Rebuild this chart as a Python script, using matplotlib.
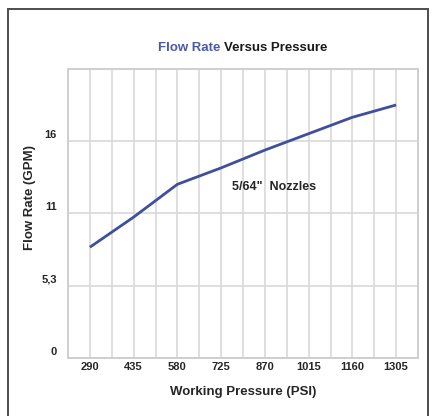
import numpy as np
import matplotlib
matplotlib.use('Agg')
import matplotlib.pyplot as plt
import matplotlib.transforms as mtransforms
from matplotlib.patches import Rectangle

# data
pressure_psi = [290, 435, 580, 725, 870, 1015, 1160, 1305]
flow_gpm = [8.1, 10.3, 12.7, 13.9, 15.2, 16.4, 17.6, 18.5]
y_ticks = [0, 5.28, 10.57, 15.85]          # 0 / 20 / 40 / 60 L/min in GPM
y_tick_labels = ['0', '5,3', '11', '16']
x_minor = [217.5 + 145 * i for i in range(9)]

plt.rcParams['font.family'] = ['Liberation Sans', 'DejaVu Sans']
plt.rcParams['font.weight'] = 'bold'

line_blue = '#3f4f9c'
grid_col = '#d9d9d9'
txt_col = '#262626'

fig = plt.figure(figsize=(4.36, 4.16), dpi=100)
fig.patch.set_facecolor('white')

# outer frame of the picture
fig.patches.append(Rectangle((8 / 436, -0.05), 420 / 436, 1.05 - 9 / 416,
                             transform=fig.transFigure, fill=False,
                             edgecolor='#4d4d4d', linewidth=1.4))

ax = fig.add_axes([68 / 436, 58 / 416, 350 / 436, 289 / 416])
ax.plot(pressure_psi, flow_gpm, color=line_blue, linewidth=2.0, solid_capstyle='butt', zorder=3)

ax.set_xlim(217.5, 1377.5)
ax.set_ylim(0, 21.13)
ax.set_xticks(pressure_psi)
ax.set_xticklabels([str(p) for p in pressure_psi])
ax.set_xticks(x_minor, minor=True)
ax.set_yticks(y_ticks)
ax.set_yticklabels(y_tick_labels)

ax.grid(True, which='both', axis='x', color=grid_col, linewidth=1.2)
ax.grid(True, which='major', axis='y', color=grid_col, linewidth=1.2)
ax.set_axisbelow(True)
for s in ax.spines.values():
    s.set_color('#cfcfcf')
    s.set_linewidth(1.4)

ax.tick_params(which='both', length=0)
ax.tick_params(axis='x', pad=3, labelsize=8, labelcolor=txt_col)
ax.tick_params(axis='y', pad=8, labelsize=8, labelcolor=txt_col)
offset = mtransforms.ScaledTranslation(0, 0.07, fig.dpi_scale_trans)
for lab in ax.get_yticklabels():
    lab.set_transform(lab.get_transform() + offset)

ax.text(760, 12.5, '5/64"  Nozzles', fontsize=9, fontweight='bold', color=txt_col, va='center', ha='left')

# title with two colours, centered over the plot as a whole
t1 = fig.text(243 / 436, 1 - 48 / 416, 'Flow Rate ', color='#4a5aa6', fontsize=9.5,
              fontweight='bold', ha='right', va='center')
t2 = fig.text(243 / 436, 1 - 48 / 416, 'Versus Pressure', color='#1a1a1a', fontsize=9.5,
              fontweight='bold', ha='left', va='center')
rend = fig.canvas.get_renderer()
w1 = t1.get_window_extent(renderer=rend).width
w2 = t2.get_window_extent(renderer=rend).width
shift = (w1 - w2) / 2 / 436
t1.set_x(243 / 436 + shift)
t2.set_x(243 / 436 + shift)

fig.text(243 / 436, 1 - 392 / 416, 'Working Pressure (PSI)', fontsize=9.5, fontweight='bold',
         color=txt_col, ha='center', va='center')
fig.text(30 / 436, 1 - 197 / 416, 'Flow Rate (GPM)', fontsize=9.5, fontweight='bold',
         color=txt_col, ha='center', va='center', rotation=90)

fig.savefig('out.png', dpi=100)
